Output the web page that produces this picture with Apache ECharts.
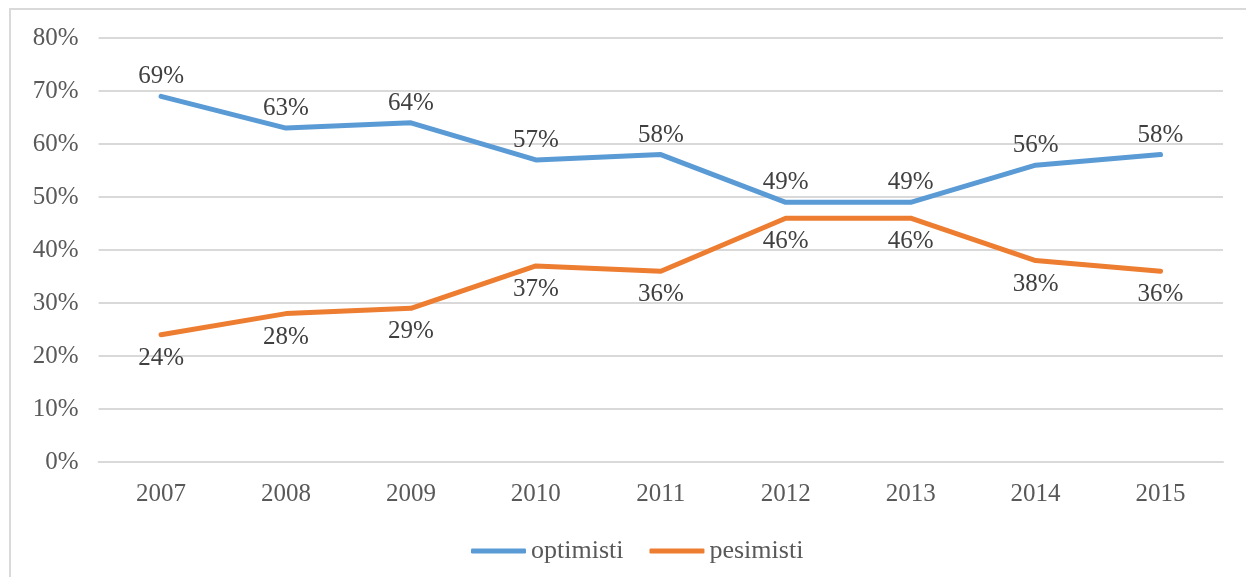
<!DOCTYPE html>
<html>
<head>
<meta charset="utf-8">
<script src="https://cdn.jsdelivr.net/npm/echarts@6/dist/echarts.min.js"></script>
<style>
  html, body { margin: 0; padding: 0; background: #fff; }
  #chart { width: 1246px; height: 577px; }
</style>
</head>
<body>
<div id="chart"></div>
<script>
// categories and values
var years = ['2007', '2008', '2009', '2010', '2011', '2012', '2013', '2014', '2015'];
var optimisti = [69, 63, 64, 57, 58, 49, 49, 56, 58];
var pesimisti = [24, 28, 29, 37, 36, 46, 46, 38, 36];
var seriesNames = ['optimisti', 'pesimisti'];

var font = 'Liberation Serif, Times New Roman, serif';
var fs = 25;

var myChart = echarts.init(document.getElementById('chart'));

myChart.setOption({
  backgroundColor: '#ffffff',
  animation: false,
  // light frame around the chart, open on the right and bottom
  graphic: [{
    type: 'rect',
    shape: { x: 10, y: 9, width: 1260, height: 620 },
    style: { fill: 'none', stroke: '#d9d9d9', lineWidth: 2 },
    silent: true
  }],
  grid: {
    left: 98.6,
    right: 23,
    top: 38,
    bottom: 115
  },
  legend: {
    top: 533,
    left: 466,
    itemWidth: 55,
    itemHeight: 5,
    itemGap: 26,
    icon: 'roundRect',
    textStyle: { fontFamily: font, fontSize: 26, color: '#595959', padding: [0, 0, 0, 0] },
    data: seriesNames
  },
  xAxis: {
    type: 'category',
    data: years,
    boundaryGap: true,
    axisLine: { show: true, lineStyle: { color: '#d9d9d9', width: 2 } },
    axisTick: { show: false },
    axisLabel: { fontFamily: font, fontSize: fs, color: '#595959', margin: 20 }
  },
  yAxis: {
    type: 'value',
    min: 0,
    max: 80,
    interval: 10,
    axisLine: { show: false },
    axisTick: { show: false },
    splitLine: { lineStyle: { color: '#d9d9d9', width: 2 } },
    axisLabel: {
      fontFamily: font, fontSize: fs, color: '#595959', margin: 20,
      formatter: '{value}%'
    }
  },
  series: [
    {
      name: seriesNames[0],
      type: 'line',
      data: optimisti,
      symbol: 'circle',
      symbolSize: 0.1,
      showSymbol: true,
      lineStyle: { color: '#5b9bd5', width: 5, cap: 'round', join: 'round' },
      itemStyle: { color: '#5b9bd5' },
      label: {
        show: true, position: 'top', distance: 7,
        fontFamily: font, fontSize: fs, color: '#404040',
        formatter: '{c}%'
      }
    },
    {
      name: seriesNames[1],
      type: 'line',
      data: pesimisti,
      symbol: 'circle',
      symbolSize: 0.1,
      showSymbol: true,
      lineStyle: { color: '#ed7d31', width: 5, cap: 'round', join: 'round' },
      itemStyle: { color: '#ed7d31' },
      label: {
        show: true, position: 'bottom', distance: 11,
        fontFamily: font, fontSize: fs, color: '#404040',
        formatter: '{c}%'
      }
    }
  ]
});
</script>
</body>
</html>
